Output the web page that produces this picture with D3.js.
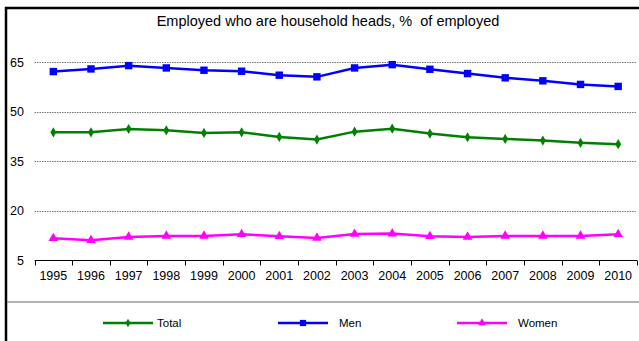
<!DOCTYPE html>
<html><head><meta charset="utf-8">
<script src="https://cdn.jsdelivr.net/npm/d3@7"></script>
<style>body{margin:0;background:#fff}svg{display:block;font-family:"Liberation Sans",Arial,sans-serif}</style>
</head><body><svg id="c" width="639" height="341"></svg>
<script>
const years = ["1995","1996","1997","1998","1999","2000","2001","2002","2003","2004","2005","2006","2007","2008","2009","2010"];
const total = [43.7,43.7,44.7,44.3,43.5,43.7,42.3,41.5,43.9,44.8,43.3,42.2,41.7,41.2,40.5,40.1];
const men   = [62.1,62.9,63.9,63.2,62.5,62.2,61.0,60.5,63.2,64.2,62.8,61.5,60.2,59.3,58.2,57.6];
const women = [11.6,11.0,12.0,12.3,12.3,12.8,12.2,11.7,12.9,13.0,12.2,12.0,12.3,12.3,12.3,12.8];
const yTicks = [5,20,35,50,65];
const title = "Employed who are household heads, %  of employed";

const svg = d3.select("#c");
const x = d3.scaleBand().domain(years).range([34.5, 637]);
const y = d3.scaleLinear().domain([5, 65]).range([260, 62]);

// frame
svg.append("line").attr("x1",6).attr("x2",6).attr("y1",7).attr("y2",341).attr("stroke","#000").attr("stroke-width",2.5);
svg.append("line").attr("x1",5).attr("x2",639).attr("y1",8).attr("y2",8).attr("stroke","#000").attr("stroke-width",2.5);
svg.append("line").attr("x1",7).attr("x2",639).attr("y1",302).attr("y2",302).attr("stroke","#666").attr("stroke-width",1.2);

svg.append("text").attr("x",328).attr("y",26).attr("text-anchor","middle").attr("font-size",14.5)
  .style("white-space","pre").attr("fill","#000").text(title);

// grid
svg.append("g").selectAll("line").data(yTicks.filter(d=>d>5)).join("line")
  .attr("x1",34.5).attr("x2",637).attr("y1",d=>Math.round(y(d))+0.5).attr("y2",d=>Math.round(y(d))+0.5)
  .attr("stroke","#777").attr("stroke-dasharray","1.5,1").attr("stroke-width",1);

// y labels
svg.append("g").selectAll("text").data(yTicks).join("text")
  .attr("x",d=>d===5?17:10).attr("y",d=>y(d)+4.5).attr("font-size",12.5).attr("fill","#000").text(d=>d);

// x axis
const xa = svg.append("g").attr("transform","translate(0,260.5)");
xa.append("line").attr("x1",34.5).attr("x2",637).attr("stroke","#000").attr("stroke-width",1.2);
const bounds = years.map(d=>x(d)).concat([x(years[years.length-1])+x.bandwidth()]);
xa.selectAll("line.t").data(bounds).join("line").attr("class","t")
  .attr("x1",d=>Math.round(d)+0.5).attr("x2",d=>Math.round(d)+0.5).attr("y1",0).attr("y2",5).attr("stroke","#000");
xa.selectAll("text").data(years).join("text")
  .attr("x",d=>x(d)+x.bandwidth()/2).attr("y",19).attr("text-anchor","middle").attr("font-size",12.5).attr("fill","#000").text(d=>d);

const series = [
  {name:"Total", vals: total, color:"#008000", sym:d3.symbolDiamond, size:30, lx:103, tx:157},
  {name:"Men", vals: men, color:"#0000ff", sym:d3.symbolSquare, size:55, lx:278, tx:339},
  {name:"Women", vals: women, color:"#ff00ff", sym:d3.symbolTriangle, size:40, lx:457, tx:518}
];
const line = d3.line().x((d,i)=>x(years[i])+x.bandwidth()/2).y(d=>y(d));
series.forEach(s=>{
  svg.append("path").attr("d",line(s.vals)).attr("fill","none").attr("stroke",s.color).attr("stroke-width",2.5);
  svg.append("g").selectAll("path").data(s.vals).join("path")
    .attr("transform",(d,i)=>`translate(${x(years[i])+x.bandwidth()/2},${y(d)})`)
    .attr("d",d3.symbol().type(s.sym).size(s.size)).attr("fill",s.color);
  // legend
  svg.append("line").attr("x1",s.lx).attr("x2",s.lx+50).attr("y1",323).attr("y2",323).attr("stroke",s.color).attr("stroke-width",2.5);
  svg.append("path").attr("transform",`translate(${s.lx+25},323)`).attr("d",d3.symbol().type(s.sym).size(s.size*0.7)).attr("fill",s.color);
  svg.append("text").attr("x",s.tx).attr("y",327).attr("font-size",11.5).attr("fill","#000").text(s.name);
});
</script></body></html>
